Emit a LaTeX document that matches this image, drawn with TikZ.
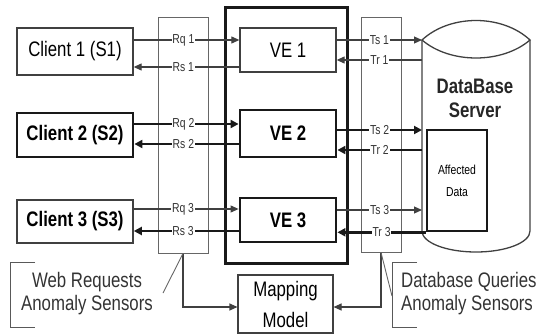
\documentclass[tikz,border=0pt]{standalone}
\usepackage{fontspec}
\setmainfont[FakeStretch=0.8]{Liberation Sans}
\usetikzlibrary{arrows.meta,calc}
\newcommand\mybig{\fontsize{21}{24}\selectfont}
\begin{document}
\begin{tikzpicture}[x=1pt,y=-1pt,
  box/.style={draw=black!75, line width=1.3pt, inner sep=0pt, font=\mybig},
  kbox/.style={box, draw=black!90, line width=2.8pt, font=\mybig\bfseries},
  sensor/.style={draw=black!60, line width=1pt, inner sep=0pt},
  tarr/.style={draw=black!75, line width=1.1pt, -{Triangle[length=8pt,width=7pt]}},
  karr/.style={draw=black!90, line width=2.6pt, -{Triangle[length=8pt,width=8pt]}},
  lab/.style={fill=white, inner sep=0.8pt, font=\fontsize{13}{13}\selectfont, text=black!80},
  dbline/.style={draw=black!75, line width=1.3pt},
  bracket/.style={draw=black!65, line width=1pt},
  pointer/.style={draw=black!60, line width=0.9pt}]
\useasboundingbox (0,0) rectangle (537,334);

% sensor columns
\node[sensor, minimum width=50pt, minimum height=235pt] (wsens) at (183,135.5) {};
\node[sensor, minimum width=40pt, minimum height=234pt] (dsens) at (381,135) {};

% big VE container
\node[draw=black!90, line width=3pt, minimum width=122pt, minimum height=255pt, inner sep=0pt] (vebig) at (286,135.5) {};

% clients
\node[box, minimum width=116pt, minimum height=47pt] (c1) at (75,51.5) {Client 1 (S1)};
\node[kbox, minimum width=116pt, minimum height=44pt] (c2) at (75,135) {Client 2 (S2)};
\node[box, line width=1.6pt, font=\mybig\bfseries, minimum width=116pt, minimum height=43pt] (c3) at (75,221.5) {Client 3 (S3)};

% VEs
\node[box, fill=white, minimum width=96pt, minimum height=44pt] (ve1) at (288,50) {VE 1};
\node[kbox, fill=white, minimum width=96pt, minimum height=47pt] (ve2) at (288,133.5) {VE 2};
\node[kbox, fill=white, minimum width=96pt, minimum height=44pt] (ve3) at (288,220) {VE 3};

% database cylinder
\draw[dbline] (422,40) -- (422,231) arc[start angle=180, end angle=360, x radius=54pt, y radius=21pt] -- (530,40);
\draw[dbline, fill=white] (422,40) .. controls (450,14) and (502,14) .. (530,40)
                                   .. controls (502,64) and (450,64) .. cycle;
\node[font=\mybig\bfseries, align=center, inner sep=0pt, text=black!85] (dbt) at (475,98) {DataBase\\Server};
\node[draw=black!90, line width=2.6pt, minimum width=60pt, minimum height=101pt, inner sep=0pt,
      align=center, font=\fontsize{13}{22}\selectfont] (aff) at (457,180.5) {Affected\\Data};
\coordinate (dbTs1) at (422,40);
\coordinate (dbTr1) at (422,60);
\coordinate (dbTs2) at (422,130);
\coordinate (dbTr2) at (422,150);
\coordinate (dbTs3) at (422,210);

% request / response connectors
\draw[tarr] (c1.east |- 0,40) -- node[lab,pos=.47]{Rq 1} (ve1.west |- 0,40);
\draw[tarr] (ve1.west |- 0,67) -- node[lab,pos=.53]{Rs 1} (c1.east |- 0,67);
\draw[karr] (c2.east |- 0,124) -- node[lab,pos=.47]{Rq 2} (ve2.west |- 0,124);
\draw[karr] (ve2.west |- 0,144) -- node[lab,pos=.53]{Rs 2} (c2.east |- 0,144);
\draw[tarr] (c3.east |- 0,209) -- node[lab,pos=.47]{Rq 3} (ve3.west |- 0,209);
\draw[karr] (ve3.west |- 0,231) -- node[lab,pos=.53]{Rs 3} (c3.east |- 0,231);

% query / result connectors
\draw[tarr] (ve1.east |- dbTs1) -- node[lab]{Ts 1} (dbTs1);
\draw[tarr] (dbTr1) -- node[lab]{Tr 1} (ve1.east |- dbTr1);
\draw[karr] (ve2.east |- dbTs2) -- node[lab]{Ts 2} (dbTs2);
\draw[karr] (dbTr2) -- node[lab]{Tr 2} (ve2.east |- dbTr2);
\draw[tarr] (ve3.east |- dbTs3) -- node[lab]{Ts 3} (dbTs3);
\draw[karr] (aff.south west) -- node[lab]{Tr 3} (ve3.east |- aff.south west);

% mapping model
\node[box, line width=1.1pt, minimum width=95pt, minimum height=58pt, align=center,
      font=\fontsize{21}{31}\selectfont] (map) at (285.5,304) {Mapping\\Model};
\draw[tarr] (wsens.south) -- (wsens.south |- 0,307) -- (map.west |- 0,307);
\draw[tarr] (dsens.south) -- (dsens.south |- 0,307) -- (map.east |- 0,307);

% sensor labels
\node[font=\fontsize{21}{23}\selectfont, align=center, inner sep=0pt, text=black!80] (wlab) at (87,294) {Web Requests\\Anomaly Sensors};
\node[font=\fontsize{21}{23}\selectfont, align=left, inner sep=0pt, anchor=west, text=black!80] (dlab) at (401,294) {Database Queries\\Anomaly Sensors};
\draw[bracket] (35,262) -- (10,262) -- (10,327) -- (35,327);
\draw[bracket] (417,262) -- (392,262) -- (392,327) -- (417,327);
\coordinate (wp) at (163,293);
\coordinate (dp) at (392,296);
\draw[pointer] (wp) -- (wsens.south);
\draw[pointer] (dsens.south) -- (dp);
\end{tikzpicture}
\end{document}
